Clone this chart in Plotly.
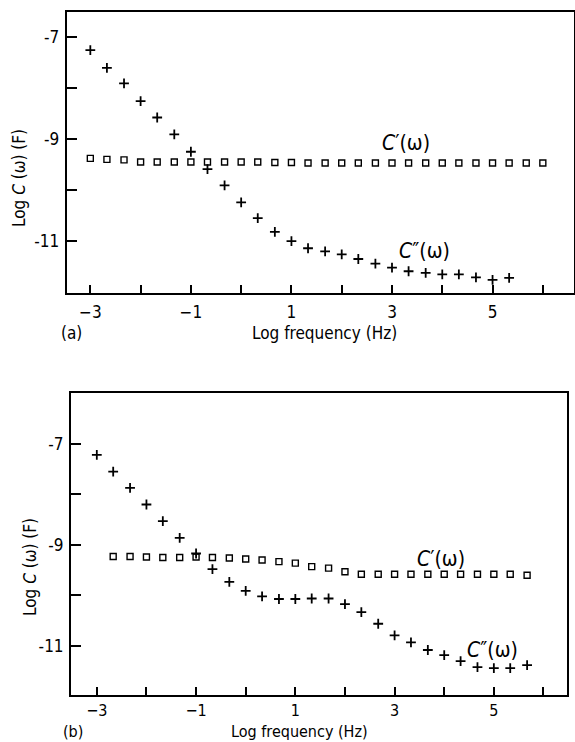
import plotly.graph_objects as go

# ---------------- data ----------------
# Panel (a)
a_x_c2 = [-3, -2.67, -2.33, -2, -1.67, -1.33, -1, -0.67, -0.33, 0, 0.33, 0.67, 1,
          1.33, 1.67, 2, 2.33, 2.67, 3, 3.33, 3.67, 4, 4.33, 4.67, 5, 5.33]
a_c2 = [-7.26, -7.61, -7.91, -8.26, -8.58, -8.91, -9.25, -9.59, -9.91, -10.24, -10.55,
        -10.82, -11.0, -11.14, -11.20, -11.26, -11.35, -11.44, -11.52, -11.59, -11.62,
        -11.65, -11.65, -11.71, -11.76, -11.72]
a_x_c1 = [-3, -2.67, -2.33, -2, -1.67, -1.33, -1, -0.67, -0.33, 0, 0.33, 0.67, 1,
          1.33, 1.67, 2, 2.33, 2.67, 3, 3.33, 3.67, 4, 4.33, 4.67, 5, 5.33, 5.67, 6]
a_c1 = [-9.38, -9.40, -9.41, -9.45, -9.45, -9.45, -9.45, -9.45, -9.45, -9.45, -9.45,
        -9.46, -9.46, -9.47, -9.47, -9.47, -9.47, -9.47, -9.47, -9.47, -9.47, -9.47,
        -9.47, -9.47, -9.47, -9.47, -9.47, -9.47]

# Panel (b)
b_x_c2 = [-3, -2.67, -2.33, -2, -1.67, -1.33, -1, -0.67, -0.33, 0, 0.33, 0.67, 1,
          1.33, 1.67, 2, 2.33, 2.67, 3, 3.33, 3.67, 4, 4.33, 4.67, 5, 5.33, 5.67]
b_c2 = [-7.22, -7.55, -7.87, -8.20, -8.53, -8.86, -9.17, -9.48, -9.73, -9.91, -10.02,
        -10.07, -10.07, -10.06, -10.06, -10.17, -10.33, -10.56, -10.79, -10.93, -11.08,
        -11.18, -11.30, -11.42, -11.44, -11.44, -11.38]
b_x_c1 = [-2.67, -2.33, -2, -1.67, -1.33, -1, -0.67, -0.33, 0, 0.33, 0.67, 1,
          1.33, 1.67, 2, 2.33, 2.67, 3, 3.33, 3.67, 4, 4.33, 4.67, 5, 5.33, 5.67]
b_c1 = [-9.23, -9.23, -9.24, -9.25, -9.25, -9.24, -9.25, -9.26, -9.28, -9.30, -9.33,
        -9.36, -9.43, -9.46, -9.53, -9.58, -9.58, -9.58, -9.58, -9.58, -9.58, -9.58,
        -9.58, -9.58, -9.58, -9.60]

x_tickvals = [-3, -2, -1, 0, 1, 2, 3, 4, 5, 6]
x_ticktext = ["\u22123", "", "\u22121", "", "1", "", "3", "", "5", ""]
y_tickvals = [-7, -8, -9, -10, -11]
y_ticktext = ["-7", "", "-9", "", "-11"]

FONT = "DejaVu Sans Condensed, Liberation Sans Narrow, DejaVu Sans, sans-serif"
W, H = 575, 742

fig = go.Figure()

cross = dict(symbol="cross-thin", size=7, color="black", line=dict(color="black", width=1.8))
square = dict(symbol="square-open", size=6, color="black", line=dict(color="black", width=1.4))

fig.add_trace(go.Scatter(x=a_x_c2, y=a_c2, mode="markers", marker=cross, xaxis="x", yaxis="y", showlegend=False))
fig.add_trace(go.Scatter(x=a_x_c1, y=a_c1, mode="markers", marker=square, xaxis="x", yaxis="y", showlegend=False))
fig.add_trace(go.Scatter(x=b_x_c2, y=b_c2, mode="markers", marker=cross, xaxis="x2", yaxis="y2", showlegend=False))
fig.add_trace(go.Scatter(x=b_x_c1, y=b_c1, mode="markers", marker=square, xaxis="x2", yaxis="y2", showlegend=False))

axis_common = dict(showgrid=False, zeroline=False, showline=True, linecolor="black", linewidth=2,
                   mirror=True, ticks="inside", tickcolor="black", tickwidth=1.5)
tf17 = dict(family=FONT, size=17, color="black")
tf16 = dict(family=FONT, size=16, color="black")

fig.update_layout(
    width=W, height=H,
    margin=dict(l=0, r=0, t=0, b=0),
    paper_bgcolor="white", plot_bgcolor="white",
    xaxis=dict(domain=[66.7 / W, 574 / W], range=[-3.47, 6.62], anchor="y",
               tickvals=x_tickvals, ticktext=x_ticktext, ticklen=8, ticklabelstandoff=3,
               tickfont=tf17, **axis_common),
    yaxis=dict(domain=[1 - 292.7 / H, 1 - 12.3 / H], range=[-12.01, -6.52], anchor="x",
               tickvals=y_tickvals, ticktext=y_ticktext, ticklen=10, ticklabelstandoff=2,
               tickfont=tf17, **axis_common),
    xaxis2=dict(domain=[71 / W, 567.3 / W], range=[-3.52, 6.48], anchor="y2",
                tickvals=x_tickvals, ticktext=x_ticktext, ticklen=8, ticklabelstandoff=0,
                tickfont=tf16, **axis_common),
    yaxis2=dict(domain=[1 - 695 / H, 1 - 393.3 / H], range=[-11.97, -6.0], anchor="x2",
                tickvals=y_tickvals, ticktext=y_ticktext, ticklen=10, ticklabelstandoff=2,
                tickfont=tf17, **axis_common),
)

lab_font = dict(family=FONT, size=17, color="black")
lab_font_b = dict(family=FONT, size=16, color="black")
curve_font = dict(family=FONT, size=21, color="black")


def ann(text, x, y, xref="paper", yref="paper", font=lab_font, angle=0):
    if xref == "paper":
        x = x / W
    if yref == "paper":
        y = 1 - y / H
    return dict(text=text, x=x, y=y, xref=xref, yref=yref, xanchor="center", yanchor="middle",
                textangle=angle, showarrow=False, font=font)


annotations = [
    # panel (a)
    ann("Log <i>C</i> (\u03c9) (F)", 19, 178, angle=-90),
    ann("Log frequency (Hz)", 324, 333),
    ann("(a)", 71, 333),
    ann("<i>C</i>\u2032(\u03c9)", 3.27, -9.08, "x", "y", curve_font),
    ann("<i>C</i>\u2033(\u03c9)", 3.64, -11.2, "x", "y", curve_font),
    # panel (b)
    ann("Log <i>C</i> (\u03c9) (F)", 30, 567, angle=-90),
    ann("Log frequency (Hz)", 299, 731, font=lab_font_b),
    ann("(b)", 73, 731, font=lab_font_b),
    ann("<i>C</i>\u2032(\u03c9)", 3.94, -9.28, "x2", "y2", curve_font),
    ann("<i>C</i>\u2033(\u03c9)", 4.98, -11.08, "x2", "y2", curve_font),
]
fig.update_layout(annotations=annotations)

fig.write_html("out.html")
